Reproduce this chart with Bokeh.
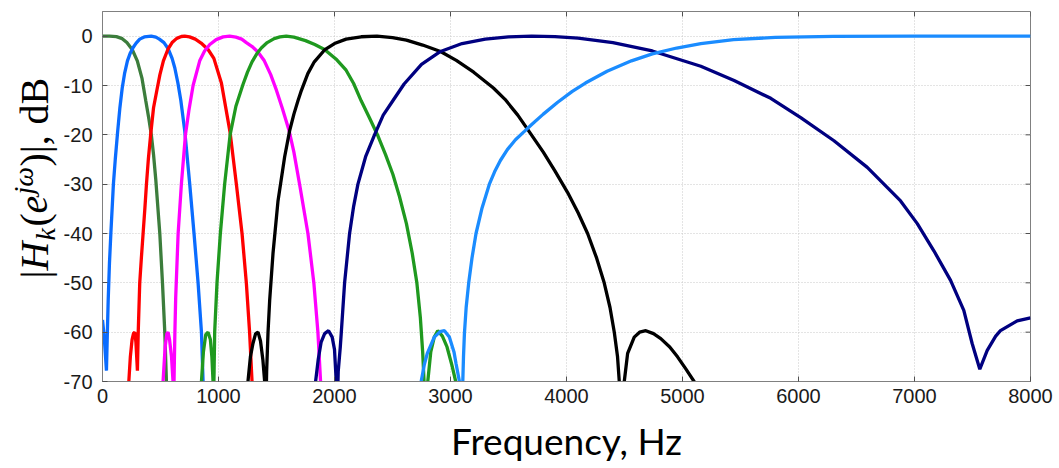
import math
from bokeh.plotting import figure
from bokeh.layouts import row
from bokeh.models import Range1d, FixedTicker
from bokeh.core.properties import value
from bokeh.embed import file_html
from bokeh.resources import INLINE

# ---------------- data ----------------
x_ticks = [0, 1000, 2000, 3000, 4000, 5000, 6000, 7000, 8000]
y_ticks = [-70, -60, -50, -40, -30, -20, -10, 0]

# k=0 lowpass (dark green)
f_band0 = [0, 60, 120, 170, 210, 256, 300, 340, 373, 400, 422, 440, 459, 494, 517, 537, 551, 556]
h_band0 = [0, 0, -0.1, -0.5, -1.3, -2.7, -5, -8.5, -13.1, -16.8, -20.2, -24, -29, -40, -50, -60, -70, -73]

# k=1 (blue)
f_band1 = [0, 15, 34, 42, 49, 60, 72, 94, 110, 130, 150, 170, 190, 215, 240, 264, 290, 321, 360,
           420, 460, 490, 530, 565, 600, 623, 650, 675, 709, 752, 789, 824, 853, 867, 872]
h_band1 = [-57.5, -61, -67.8, -60, -53.6, -46, -40, -30, -25, -19.5, -14.5, -10.5, -7.6, -5, -3.4, -2.3, -1.4, -0.6, -0.15,
           0, -0.2, -0.6, -1.3, -2.5, -4.5, -6.4, -9.5, -13, -19.2, -30, -40, -50, -60, -70, -73]

# k=2 (red)
f_band2 = [220, 227, 240, 255, 268, 278, 288, 297, 301, 308, 321, 335, 350, 365, 379, 395, 415, 440, 470, 495,
           525, 565, 600, 640, 680, 709, 750, 800, 850, 910, 960, 1025, 1100, 1154, 1203, 1240, 1268, 1289, 1295]
h_band2 = [-74, -70, -65, -61.5, -60.2, -60, -62, -66, -67.8, -60, -50, -45, -40, -35, -30, -25, -20, -14.5, -10.8, -7.8,
           -5.0, -2.6, -1.3, -0.45, -0.07, 0, -0.15, -0.6, -1.4, -2.7, -4.5, -9.5, -19.5, -30, -40, -50, -60, -70, -73]

# k=3 (magenta)
f_band3 = [515, 522, 540, 555, 565, 578, 595, 608, 611, 614, 618, 624, 631, 652, 680, 715, 745, 781, 838, 880, 925,
           980, 1040, 1096, 1150, 1200, 1240, 1290, 1340, 1395, 1450, 1500, 1550, 1607, 1650, 1699, 1771, 1822,
           1857, 1880, 1885]
h_band3 = [-74, -70, -63, -60.3, -60, -61.5, -65, -70, -74, -74, -68, -60, -53, -40, -30, -20, -15, -10, -5, -3, -1.7,
           -0.7, -0.15, 0, -0.2, -0.6, -1.3, -2.1, -3.2, -5.0, -7.8, -11, -14.6, -19, -23.5, -30, -40, -50,
           -60, -70, -73]

# k=4 (green)
f_band4 = [845, 853, 870, 890, 910, 930, 943, 953, 958, 962, 967, 987, 1016, 1053, 1100, 1150, 1211, 1250, 1289,
           1335, 1369, 1420, 1480, 1530, 1584, 1650, 1750, 1830, 1914, 2020, 2100, 2165, 2230, 2300, 2376, 2440,
           2503, 2560, 2620, 2670, 2710, 2740, 2760, 2772, 2776, 2800, 2804, 2830, 2860, 2890, 2930, 2970, 3010,
           3045, 3050]
h_band4 = [-74, -70, -64, -60.5, -60, -61.5, -65, -70, -73, -68, -60, -50, -40, -30, -20, -14.2, -9.8, -7.3, -5.2,
           -3.4, -2.4, -1.3, -0.5, -0.15, 0, -0.2, -0.9, -1.7, -2.7, -4.8, -6.9, -9.6, -13.1, -16.5, -20.3, -24,
           -28, -32.5, -38, -44, -50, -57, -64, -70, -74, -74, -70, -64, -61, -59.7, -60.8, -63, -66.5,
           -70, -74]

# k=5 (black)
f_band5 = [1248, 1254, 1275, 1297, 1320, 1341, 1362, 1383, 1398, 1404, 1410, 1415, 1427, 1441, 1470, 1513, 1570,
           1613, 1650, 1685, 1710, 1770, 1826, 1914, 2000, 2100, 2230, 2366, 2500, 2620, 2760, 2914, 3050, 3200,
           3370, 3470, 3580, 3680, 3800, 3900, 4010, 4100, 4182, 4260, 4325, 4375, 4412, 4440, 4455, 4460,
           4493, 4498, 4527, 4584, 4630, 4684, 4750, 4813, 4890, 4957, 5030, 5100, 5130]
h_band5 = [-74, -70, -65, -62.3, -60.3, -60, -61.8, -65.7, -70, -74, -74, -68, -60, -53.6, -44, -33.4, -24.5,
           -19.2, -15.8, -13.1, -11.3, -7.6, -5.2, -2.8, -1.5, -0.6, -0.12, 0, -0.3, -0.8, -1.8, -3.1, -4.9, -7.3,
           -10.5, -12.8, -16.0, -19.4, -23.5, -27.3, -31.7, -35.8, -40, -45, -50, -55, -60, -65, -70, -74,
           -74, -70, -64.3, -61, -60, -59.7, -60.3, -61.3, -63, -65, -67.5, -70, -71.5]

# k=6 (navy)
f_band6 = [1830, 1837, 1860, 1885, 1915, 1949, 1980, 2000, 2015, 2018, 2026, 2032, 2050, 2058, 2087, 2130, 2165,
           2202, 2270, 2345, 2420, 2503, 2600, 2750, 2914, 3100, 3300, 3500, 3700, 3900, 4100, 4400, 4740, 5158,
           5445, 5761, 6019, 6306, 6593, 6880, 7024, 7167, 7311, 7425, 7497, 7563, 7627, 7700, 7741, 7885, 8000]
h_band6 = [-74, -70, -65.5, -62, -60.3, -59.7, -61, -63.5, -70, -74, -74, -68, -63, -60.3, -50, -40, -34.5,
           -30, -24.3, -20, -16.0, -13.1, -9.7, -5.7, -3.1, -1.5, -0.6, -0.15, 0, -0.1, -0.4, -1.3, -3, -6.1,
           -9.0, -12.6, -16.5, -21.2, -26.6, -33.4, -38, -43.5, -49.5, -55.6, -62.3, -67.5, -63.7, -60.8, -59.7,
           -57.7, -57.1]

# k=7 highpass (light blue)
f_band7 = [2740, 2747, 2775, 2800, 2860, 2910, 2948, 2990, 3030, 3048, 3077, 3082, 3100, 3106, 3112, 3120, 3135,
           3157, 3185, 3220, 3270, 3335, 3380, 3430, 3490, 3560, 3637, 3700, 3800, 3924, 4050, 4163, 4350, 4560,
           4740, 4950, 5158, 5440, 5800, 6300, 7000, 8000]
h_band7 = [-74, -70, -66.5, -64.3, -61, -59.9, -59.7, -61, -64, -66.4, -70, -74, -74, -70, -65, -60.3, -55,
           -50, -45, -40, -35, -30, -27.5, -25.2, -23, -21, -19.3, -17.9, -15.8, -13.4, -11.2, -9.5, -7.1, -5.0,
           -3.6, -2.4, -1.5, -0.7, -0.25, -0.05, 0, 0]

bands = [
    (f_band0, h_band0, "#3c7d3c"),
    (f_band1, h_band1, "#0a6cff"),
    (f_band2, h_band2, "#ff0000"),
    (f_band3, h_band3, "#ff00ff"),
    (f_band4, h_band4, "#1f991f"),
    (f_band5, h_band5, "#000000"),
    (f_band6, h_band6, "#000080"),
    (f_band7, h_band7, "#1a8cff"),
]

# ---------------- main figure ----------------
X0, X1 = 0, 8000
Y0, Y1 = -70, 5
LABEL_W = 60
W, H = 1059, 468
FRAME_T, FRAME_B = 11, 381

p = figure(width=W - LABEL_W, height=H, output_backend="svg", toolbar_location=None,
           x_range=Range1d(X0, X1), y_range=Range1d(Y0, Y1),
           min_border_left=101 - LABEL_W, min_border_right=29, min_border_top=FRAME_T,
           min_border_bottom=H - FRAME_B)
p.background_fill_color = "white"
p.border_fill_color = "white"
p.outline_line_color = "#808080"
p.outline_line_width = 1

TICKFONT = "Liberation Sans"

def style_axis(ax):
    ax.axis_line_color = "#808080"
    ax.major_tick_line_color = "#505050"
    ax.major_tick_in = 5
    ax.major_tick_out = 0
    ax.minor_tick_line_color = None
    ax.major_label_text_font = TICKFONT
    ax.major_label_text_font_size = "20px"
    ax.major_label_text_color = "#1a1a1a"

xa = p.xaxis[0]
xa.ticker = FixedTicker(ticks=x_ticks)
style_axis(xa)
xa.major_label_standoff = 7
xa.major_label_overrides = {t: str(t) for t in x_ticks}
xa.axis_label = "Frequency, Hz"
xa.axis_label_text_font = "Lato"
xa.axis_label_text_font_size = "37px"
xa.axis_label_text_font_style = "normal"
xa.axis_label_text_color = "#000000"
xa.axis_label_standoff = 12

ya = p.yaxis[0]
ya.ticker = FixedTicker(ticks=y_ticks)
style_axis(ya)
ya.major_label_standoff = 10
ya.major_label_overrides = {t: str(t) for t in y_ticks}

for g, tk in ((p.xgrid[0], x_ticks), (p.ygrid[0], y_ticks)):
    g.ticker = FixedTicker(ticks=tk)
    g.grid_line_color = "#c8c8c8"
    g.grid_line_dash = "1 2"
    g.grid_line_width = 1

# inward ticks on the top and right edges of the box
p.ray(x=x_ticks, y=[Y1] * len(x_ticks), length=5, length_units="screen",
      angle=-math.pi / 2, line_color="#505050", line_width=1)
p.ray(x=[X1] * len(y_ticks), y=y_ticks, length=5, length_units="screen",
      angle=math.pi, line_color="#505050", line_width=1)

for f, h, c in bands:
    p.line(f, h, line_color=c, line_width=3.3)

# ---------------- y axis label panel (math-like label built from text pieces) ----------------
# this panel's frame is aligned with the main frame (rows align frames), so it shares the dB scale
lab = figure(width=LABEL_W, height=H, output_backend="svg", toolbar_location=None,
             x_range=Range1d(0, LABEL_W), y_range=Range1d(Y0, Y1), min_border=0)
lab.axis.visible = False
lab.grid.visible = False
lab.outline_line_color = None
lab.background_fill_color = "white"
lab.border_fill_color = "white"

def dy(py):
    return Y1 - (py - FRAME_T) * (Y1 - Y0) / (FRAME_B - FRAME_T)

BASE_PX = 47          # wanted glyph baseline (canvas x)
START_PY = 278        # where the label starts (canvas y)
F_BIG = 40
F_SMALL = 28
pieces = [
    # text, offset along text (px), baseline shift (px, + = towards axis), size, style
    ("|", 0, 0, F_BIG, "normal"),
    ("H", 8, 0, F_BIG, "italic"),
    ("k", 38, 7, F_SMALL, "italic"),
    ("(", 52, 0, F_BIG, "normal"),
    ("e", 65, 0, F_BIG, "italic"),
    ("jω", 84, -15, F_SMALL, "italic"),
    (")|,", 112, 0, F_BIG, "normal"),
    ("dB", 154, 0, F_BIG, "normal"),
]
for txt, off, shift, size, style in pieces:
    anchor_x = BASE_PX + shift - 0.33 * size   # rendered baseline sits ~0.33*size right of anchor
    lab.text(x=[anchor_x], y=[dy(START_PY - off)], text=[txt],
             angle=math.pi / 2, text_font=value("Liberation Serif"),
             text_font_size=value(f"{size}px"), text_font_style=style,
             text_align="left", text_baseline="alphabetic", text_color="#000000")

layout = row(lab, p)
open("out.html", "w").write(file_html(layout, INLINE))
